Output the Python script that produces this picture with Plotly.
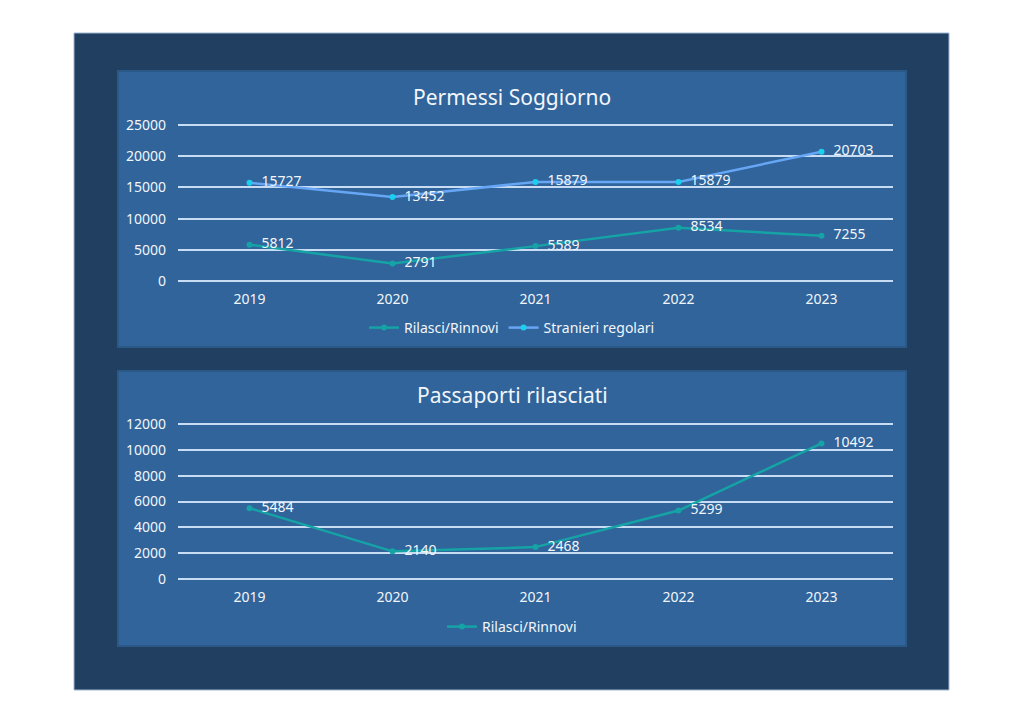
import plotly.graph_objects as go

years = ["2019", "2020", "2021", "2022", "2023"]
permessi_rilasci = [5812, 2791, 5589, 8534, 7255]
permessi_stranieri = [15727, 13452, 15879, 15879, 20703]
passaporti_rilasci = [5484, 2140, 2468, 5299, 10492]

W, H = 1024, 724
def px(x): return x / W
def py(y): return 1 - y / H

FONT = "Noto Sans"
TEAL = "#15A3A6"
LBLUE = "#66A6F4"
CYAN = "#1AD0EE"
NAVY = "#203F61"
PANEL = "#30649A"
GRID = "#C8DDF3"
TXT = "#F2F6FB"

fig = go.Figure()

def series(y, name, lc, mc, xa, ya, lg):
    return go.Scatter(
        x=years, y=y, name=name, mode="lines+markers+text",
        line=dict(color=lc, width=2.5), marker=dict(color=mc, size=6),
        text=[str(v) for v in y], texttemplate="  %{text}", textposition="middle right",
        textfont=dict(color=TXT, size=14, family=FONT),
        xaxis=xa, yaxis=ya, legend=lg, cliponaxis=False)

fig.add_trace(series(permessi_rilasci, "Rilasci/Rinnovi", TEAL, TEAL, "x", "y", "legend"))
fig.add_trace(series(permessi_stranieri, "Stranieri regolari", LBLUE, CYAN, "x", "y", "legend"))
fig.add_trace(series(passaporti_rilasci, "Rilasci/Rinnovi", TEAL, TEAL, "x2", "y2", "legend2"))

axis_common = dict(showline=False, ticks="", tickfont=dict(color=TXT, size=14, family=FONT),
                   fixedrange=True)

# headroom so the top gridline is drawn (not clipped at the plot edge)
top1, top2 = 26000, 12500
y1_top_px = 281 - (281 - 125) * top1 / 25000
y2_top_px = 579 - (579 - 424) * top2 / 12000

fig.update_layout(
    width=W, height=H, margin=dict(l=0, r=0, t=0, b=0, autoexpand=False),
    paper_bgcolor="white", plot_bgcolor="rgba(0,0,0,0)",
    font=dict(family=FONT, color=TXT),
    xaxis=dict(domain=[px(178), px(893)], anchor="y", type="category", range=[-0.5, 4.5],
               showgrid=False, zeroline=False, ticklabelstandoff=8, **axis_common),
    yaxis=dict(domain=[py(281), py(y1_top_px)], anchor="x", range=[0, top1], dtick=5000,
               tickformat="d",
               showgrid=True, gridcolor=GRID, gridwidth=1.5, zeroline=True, zerolinecolor=GRID,
               zerolinewidth=1.5, ticklabelstandoff=11, **axis_common),
    xaxis2=dict(domain=[px(178), px(893)], anchor="y2", type="category", range=[-0.5, 4.5],
                showgrid=False, zeroline=False, ticklabelstandoff=8, **axis_common),
    yaxis2=dict(domain=[py(579), py(y2_top_px)], anchor="x2", range=[0, top2], dtick=2000,
                tickformat="d",
                showgrid=True, gridcolor=GRID, gridwidth=1.5, zeroline=True, zerolinecolor=GRID,
                zerolinewidth=1.5, ticklabelstandoff=11, **axis_common),
    legend=dict(orientation="h", x=0.5, xanchor="center", y=py(328), yanchor="middle",
                bgcolor="rgba(0,0,0,0)", font=dict(color=TXT, size=14, family=FONT)),
    legend2=dict(orientation="h", x=0.5, xanchor="center", y=py(627), yanchor="middle",
                 bgcolor="rgba(0,0,0,0)", font=dict(color=TXT, size=14, family=FONT)),
    showlegend=True,
    shapes=[
        dict(type="rect", xref="paper", yref="paper", x0=px(74), x1=px(949), y0=py(690), y1=py(33),
             fillcolor=NAVY, line=dict(color="#9FB8D3", width=1), layer="below"),
        dict(type="rect", xref="paper", yref="paper", x0=px(118), x1=px(906), y0=py(347), y1=py(71),
             fillcolor=PANEL, line=dict(color="#2A5887", width=2), layer="below"),
        dict(type="rect", xref="paper", yref="paper", x0=px(118), x1=px(906), y0=py(646), y1=py(371),
             fillcolor=PANEL, line=dict(color="#2A5887", width=2), layer="below"),
    ],
    annotations=[
        dict(text="Permessi Soggiorno", x=0.5, y=py(97), xref="paper", yref="paper",
             xanchor="center", yanchor="middle",
             showarrow=False, font=dict(size=21, color=TXT, family=FONT)),
        dict(text="Passaporti rilasciati", x=0.5, y=py(395), xref="paper", yref="paper",
             xanchor="center", yanchor="middle",
             showarrow=False, font=dict(size=21, color=TXT, family=FONT)),
    ],
)

fig.write_html("out.html")
